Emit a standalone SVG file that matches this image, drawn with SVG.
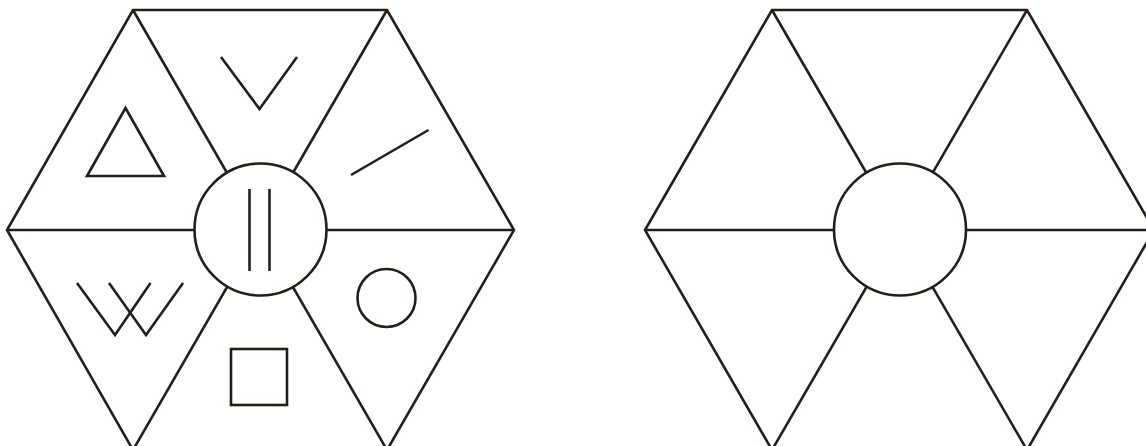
<svg xmlns="http://www.w3.org/2000/svg" width="1146" height="446" viewBox="0 0 1146 446">
<style>
.s{fill:none;stroke:#241e1b;stroke-width:2.6;stroke-linejoin:miter;stroke-linecap:butt}
.c{fill:#fff;stroke:#241e1b;stroke-width:2.6}
</style>
<rect width="1146" height="446" fill="#fff"/>
<g id="left-hexagon">
<polygon class="s" points="133,10 387,10 514,230 387,450 133,450 7,230"/>
<g id="left-spokes">
<line class="s" x1="133" y1="10" x2="387" y2="450"/>
<line class="s" x1="387" y1="10" x2="133" y2="450"/>
<line class="s" x1="7" y1="230" x2="514" y2="230"/>
</g>
<circle id="left-center" class="c" cx="260.5" cy="229.5" r="66"/>
<g id="left-symbols">
<line class="s" x1="249.5" y1="189" x2="249.5" y2="271"/>
<line class="s" x1="269.5" y1="189" x2="269.5" y2="271"/>
<polyline class="s" points="221,57 259.5,109 297,57"/>
<polygon class="s" points="125.5,108 87,176 164,176"/>
<line class="s" x1="428.5" y1="130" x2="351" y2="175"/>
<polyline class="s" points="77,283 115,335 150.5,283"/>
<polyline class="s" points="109,283 146,335 183,283"/>
<circle class="s" cx="386.5" cy="298" r="29"/>
<rect class="s" x="231" y="349" width="56" height="56"/>
</g>
</g>
<g id="right-hexagon">
<polygon class="s" points="772,10 1027,10 1154,230 1027,450 772,450 645,230"/>
<g id="right-spokes">
<line class="s" x1="772" y1="10" x2="1027" y2="450"/>
<line class="s" x1="1027" y1="10" x2="772" y2="450"/>
<line class="s" x1="645" y1="230" x2="1154" y2="230"/>
</g>
<circle id="right-center" class="c" cx="900" cy="229.5" r="66"/>
</g>
</svg>
